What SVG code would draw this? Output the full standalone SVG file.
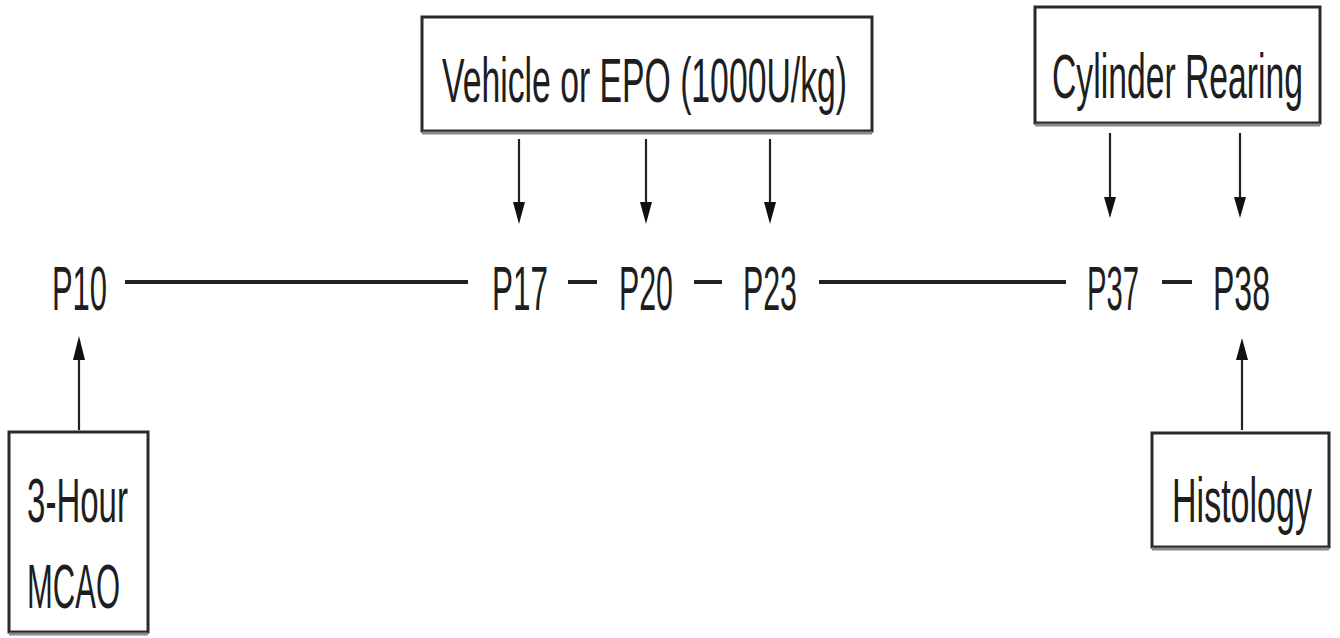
<svg xmlns="http://www.w3.org/2000/svg" width="1340" height="638" viewBox="0 0 1340 638">
<style>
.box{fill:#fff;stroke:#2a2a2a;stroke-width:3}
.shadow{stroke:#8a8a8a;stroke-width:3}
.t{font-family:"Liberation Sans",Arial,sans-serif;fill:#1e1e1e;font-size:63px}
.line{stroke:#222;stroke-width:4;fill:none}
.shaft{stroke:#222;stroke-width:2.2;fill:none}
.head{fill:#111}
</style>

<g id="node-vehicle">
<rect class="box" x="422" y="17" width="450" height="114"/>
<line class="shadow" x1="422" y1="133" x2="872" y2="133"/>
<text class="t" transform="translate(442 102) scale(0.5 1)" font-size="66" textLength="810" lengthAdjust="spacingAndGlyphs">Vehicle or EPO (1000U/kg)</text>
</g>

<g id="node-cylinder">
<rect class="box" x="1035" y="7" width="285" height="116"/>
<line class="shadow" x1="1035" y1="125" x2="1320" y2="125"/>
<text class="t" transform="translate(1052 98) scale(0.5 1)" textLength="502" lengthAdjust="spacingAndGlyphs">Cylinder Rearing</text>
</g>

<g id="node-mcao">
<rect class="box" x="9" y="432" width="139" height="200"/>
<line class="shadow" x1="9" y1="634" x2="148" y2="634"/>
<text class="t" transform="translate(27 522) scale(0.5 1)" textLength="202" lengthAdjust="spacingAndGlyphs">3-Hour</text>
<text class="t" transform="translate(27 608) scale(0.5 1)" textLength="186" lengthAdjust="spacingAndGlyphs">MCAO</text>
</g>

<g id="node-histology">
<rect class="box" x="1152" y="433" width="177" height="114"/>
<line class="shadow" x1="1152" y1="549" x2="1329" y2="549"/>
<text class="t" transform="translate(1172 522) scale(0.5 1)" textLength="280" lengthAdjust="spacingAndGlyphs">Histology</text>
</g>

<g id="node-p10"><text class="t" transform="translate(52 310) scale(0.5 1)" textLength="110" lengthAdjust="spacingAndGlyphs">P10</text></g>
<g id="node-p17"><text class="t" transform="translate(492 310) scale(0.5 1)" textLength="112" lengthAdjust="spacingAndGlyphs">P17</text></g>
<g id="node-p20"><text class="t" transform="translate(619 310) scale(0.5 1)" textLength="108" lengthAdjust="spacingAndGlyphs">P20</text></g>
<g id="node-p23"><text class="t" transform="translate(743 310) scale(0.5 1)" textLength="108" lengthAdjust="spacingAndGlyphs">P23</text></g>
<g id="node-p37"><text class="t" transform="translate(1087 310) scale(0.5 1)" textLength="104" lengthAdjust="spacingAndGlyphs">P37</text></g>
<g id="node-p38"><text class="t" transform="translate(1213 310) scale(0.5 1)" textLength="114" lengthAdjust="spacingAndGlyphs">P38</text></g>

<g id="connectors">
<line class="line" x1="125" y1="282" x2="468" y2="282"/>
<line class="line" x1="568" y1="282" x2="597" y2="282"/>
<line class="line" x1="694" y1="282" x2="722" y2="282"/>
<line class="line" x1="819" y1="282" x2="1066" y2="282"/>
<line class="line" x1="1162" y1="282" x2="1192" y2="282"/>

<path class="shaft" d="M519,139 V205"/>
<path class="head" d="M513,202 L525,202 L519,224 Z"/>
<path class="shaft" d="M646,139 V205"/>
<path class="head" d="M640,202 L652,202 L646,224 Z"/>
<path class="shaft" d="M770,139 V205"/>
<path class="head" d="M764,202 L776,202 L770,224 Z"/>
<path class="shaft" d="M1110,133 V200"/>
<path class="head" d="M1104,197 L1116,197 L1110,218 Z"/>
<path class="shaft" d="M1240,133 V200"/>
<path class="head" d="M1234,197 L1246,197 L1240,218 Z"/>

<path class="shaft" d="M79,430 V355"/>
<path class="head" d="M73,360 L85,360 L79,336 Z"/>
<path class="shaft" d="M1242,430 V355"/>
<path class="head" d="M1236,360 L1248,360 L1242,338 Z"/>
</g>
</svg>
